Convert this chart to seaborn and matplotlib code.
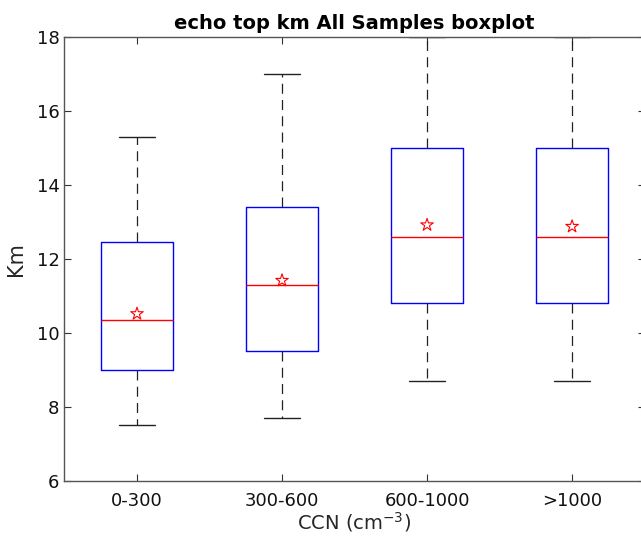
import matplotlib
matplotlib.use("Agg")
import matplotlib.pyplot as plt
import seaborn as sns
import pandas as pd

sns.set_theme(style="ticks")
plt.rcParams["font.family"] = ["DejaVu Sans"]

# values
groups = ["0-300", "300-600", "600-1000", ">1000"]
whislo = [7.5, 7.7, 8.7, 8.7]
q1 = [9.0, 9.5, 10.8, 10.8]
med = [10.35, 11.3, 12.6, 12.6]
q3 = [12.45, 13.4, 15.0, 15.0]
whishi = [15.3, 17.0, 18.0, 18.0]
means = [10.52, 11.42, 12.92, 12.88]

stats = [dict(label=g, whislo=a, q1=b, med=c, q3=d, whishi=e, fliers=[])
         for g, a, b, c, d, e in zip(groups, whislo, q1, med, q3, whishi)]
pos = list(range(1, len(groups) + 1))

fig = plt.figure(figsize=(6.41, 5.37), dpi=100)
ax = fig.add_axes([0.1006, 0.1043, 0.905, 0.8268])

ax.bxp(stats, positions=pos, widths=0.5, showfliers=False,
       boxprops=dict(color="blue", linewidth=1),
       medianprops=dict(color="red", linewidth=1),
       whiskerprops=dict(color="#222222", linestyle=(0, (8, 5)), linewidth=0.9),
       capprops=dict(color="#222222", linewidth=1), capwidths=0.25)

mdf = pd.DataFrame({"x": pos, "mean": means})
sns.scatterplot(data=mdf, x="x", y="mean", ax=ax, marker="*", s=90,
                facecolor="none", edgecolor="red", linewidth=0.8, zorder=5)

ax.set_xlim(0.5, 4.5)
ax.set_ylim(6, 18)
ax.set_xticks(pos)
ax.set_xticklabels(groups)
ax.set_yticks(range(6, 19, 2))
for s in ax.spines.values():
    s.set_color("#555555")
    s.set_linewidth(1)
ax.tick_params(direction="in", top=True, right=True, length=5, width=0.8,
               color="#333333", labelsize=13, labelcolor="#111111")
ax.tick_params(axis="x", pad=8)
ax.set_xlabel("CCN (cm$^{-3}$)", fontsize=14, labelpad=0)
ax.set_ylabel("Km", fontsize=15, labelpad=8)
ax.set_title("echo top km All Samples boxplot", fontsize=14, fontweight="bold",
             pad=6, color="black")

fig.savefig("out.png", dpi=100)
